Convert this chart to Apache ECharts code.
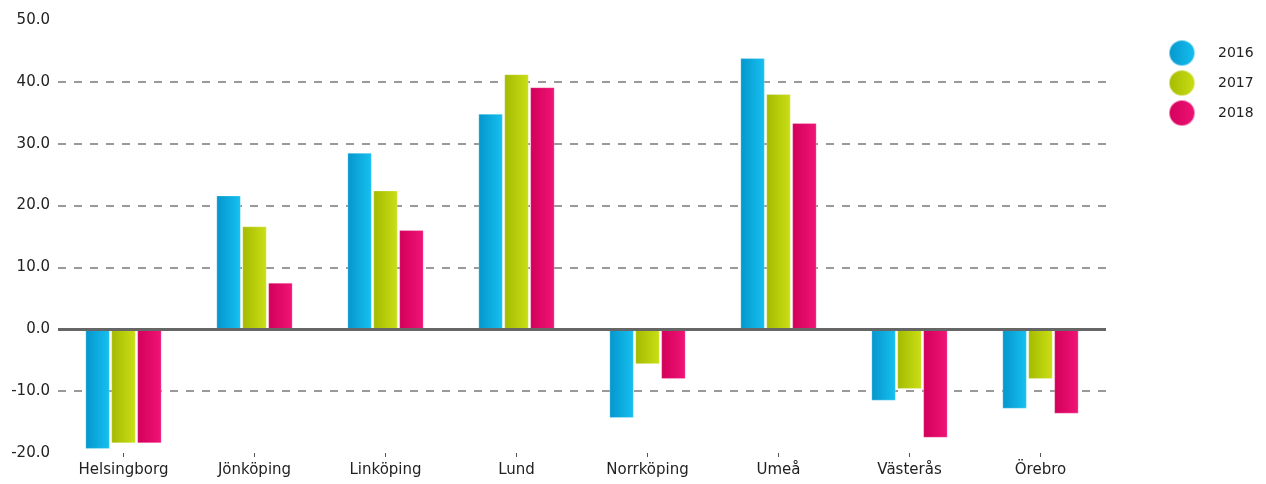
<!DOCTYPE html>
<html>
<head>
<meta charset="utf-8">
<script src="https://cdn.jsdelivr.net/npm/echarts@6/dist/echarts.min.js"></script>
<style>
html,body{margin:0;padding:0;background:#fff;}
#chart{width:1266px;height:484px;}
</style>
</head>
<body>
<div id="chart"></div>
<script>
const categories = ['Helsingborg','Jönköping','Linköping','Lund','Norrköping','Umeå','Västerås','Örebro'];
const seriesNames = ['2016','2017','2018'];
const values2016 = [-19.3, 21.6, 28.5, 34.8, -14.3, 43.8, -11.5, -12.8];
const values2017 = [-18.4, 16.6, 22.4, 41.2, -5.6, 38.0, -9.6, -8.0];
const values2018 = [-18.4, 7.5, 16.0, 39.1, -8.0, 33.3, -17.5, -13.6];
const yTicks = {min: -20, max: 50, interval: 10};

const colorPairs = [
  ['#0596cc', '#16c0f0'],
  ['#a4ba00', '#cadf16'],
  ['#d2005a', '#f01476']
];
function grad(p){
  return new echarts.graphic.LinearGradient(0,0,1,0,[{offset:0,color:p[0]},{offset:1,color:p[1]}]);
}
const allValues = [values2016, values2017, values2018];
const font = 'DejaVu Sans';

const chart = echarts.init(document.getElementById('chart'), null, {renderer:'canvas'});
chart.setOption({
  animation: false,
  backgroundColor: '#ffffff',
  grid: {left: 58, right: 160, top: 20, bottom: 31, containLabel: false},
  legend: {
    orient: 'vertical',
    left: 1163,
    top: 34,
    icon: 'circle',
    itemWidth: 26,
    itemHeight: 26,
    itemGap: 2,
    data: seriesNames.map((n,i)=>({name:n, itemStyle:{color: grad(colorPairs[i])}})),
    textStyle: {fontFamily: font, fontSize: 14, color: '#222', padding: [0,0,0,18]}
  },
  xAxis: {
    type: 'category',
    data: categories,
    axisLine: {show: false, onZero: false},
    axisTick: {show: true, alignWithLabel: true, length: 4, lineStyle: {color: '#555'}},
    axisLabel: {fontFamily: font, fontSize: 15, color: '#222', margin: 10},
    splitLine: {show: false}
  },
  yAxis: {
    type: 'value',
    min: yTicks.min, max: yTicks.max, interval: yTicks.interval,
    axisLine: {show: false},
    axisTick: {show: false},
    axisLabel: {fontFamily: font, fontSize: 15, color: '#222', margin: 8,
      formatter: v => v.toFixed(1)},
    splitLine: {show: true, showMinLine: false, showMaxLine: false,
      lineStyle: {color: '#999', width: 2, type: [8,8], dashOffset: 0}}
  },
  series: seriesNames.map((n,i)=>({
    name: n,
    type: 'bar',
    data: allValues[i],
    barWidth: 24,
    barGap: '8%',
    itemStyle: {color: grad(colorPairs[i]), borderColor: 'rgba(255,255,255,0.5)', borderWidth: 0.5},
    markLine: i === 0 ? {
      silent: true,
      symbol: 'none',
      label: {show: false},
      lineStyle: {color: '#666', width: 3, type: 'solid'},
      data: [{yAxis: 0}],
      z: 10
    } : undefined
  }))
});
</script>
</body>
</html>
